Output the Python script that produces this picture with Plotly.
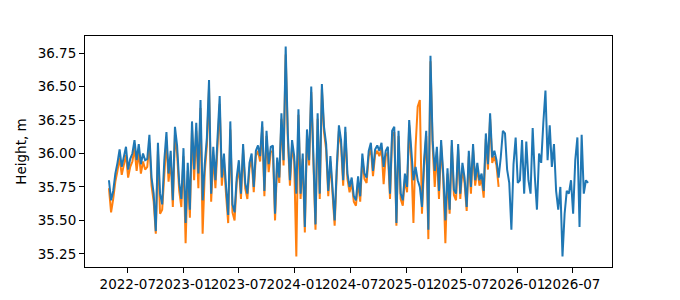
import pandas as pd
import plotly.graph_objects as go

start_date = "2022-04-30"
blue_values = [
    35.80, 35.65, 35.72, 35.85, 35.93, 36.03, 35.90, 35.98, 36.05, 35.88,
    35.96, 36.00, 36.10, 35.95, 36.07, 35.92, 36.00, 35.95, 35.96, 36.14,
    35.82, 35.70, 35.42, 36.08, 35.70, 35.62, 35.95, 36.16, 35.85, 36.02,
    35.65, 36.20, 36.06, 35.78, 35.66, 36.04, 35.48, 35.93, 35.58, 36.24,
    35.88, 36.23, 35.85, 36.40, 35.65, 35.92, 36.12, 36.55, 35.70, 36.05,
    35.80, 36.12, 36.43, 35.82, 36.00, 35.75, 35.54, 36.24, 35.62, 35.56,
    35.82, 35.95, 35.70, 36.07, 35.78, 35.70, 35.93, 36.00, 35.75, 36.02,
    36.06, 35.98, 36.24, 35.72, 36.17, 35.92, 36.05, 36.06, 35.55, 35.97,
    35.82, 36.30, 35.95, 36.80, 36.15, 35.80, 36.10, 35.98, 35.70, 36.33,
    35.70, 36.00, 35.45, 36.18, 35.95, 36.50, 36.05, 35.47, 36.30, 35.70,
    36.52, 36.20, 36.07, 35.72, 35.98, 35.74, 35.50, 35.90, 36.21, 36.10,
    35.80, 36.20, 35.85, 35.75, 35.82, 35.68, 35.65, 35.83, 35.68, 36.00,
    35.85, 35.82, 36.02, 36.08, 35.87, 36.03, 36.06, 36.02, 36.08, 35.90,
    36.02, 36.05, 35.70, 36.17, 36.20, 35.48, 36.17, 35.70, 35.65, 35.85,
    35.75, 36.25, 35.98, 35.80, 35.90, 35.80, 35.75, 35.60, 35.95, 36.17,
    35.43, 36.73, 36.10, 35.87, 36.05, 35.72, 36.10, 35.85, 35.50, 35.89,
    35.58, 36.10, 35.73, 35.70, 36.07, 35.70, 35.93, 35.82, 35.60, 36.02,
    35.75, 36.07, 35.80, 35.93, 35.80, 35.85, 35.72, 36.15, 35.92, 36.30,
    35.97, 36.02, 35.95, 35.82, 35.97, 36.17, 36.15, 35.88, 35.78, 35.43,
    35.92, 36.12, 35.78, 35.80, 36.10, 35.70, 36.09, 35.80, 35.70, 36.19,
    35.83, 35.58, 36.00, 35.93, 36.23, 36.47, 35.95, 36.21, 35.90, 36.07,
    35.72, 35.58, 35.75, 35.23, 35.55, 35.72, 35.70, 35.80, 35.55, 35.95,
    36.12, 35.45, 36.14, 35.70, 35.80, 35.78,
]
orange_values = [
    35.74, 35.56, 35.66, 35.79, 35.87, 35.97, 35.84, 35.92, 35.99, 35.82,
    35.90, 35.94, 36.04, 35.87, 36.01, 35.85, 35.94, 35.88, 35.90, 36.08,
    35.76, 35.64, 35.40, 36.02, 35.55, 35.58, 35.89, 36.10, 35.79, 35.96,
    35.60, 36.14, 36.00, 35.72, 35.60, 35.98, 35.33, 35.87, 35.52, 36.18,
    35.80, 36.17, 35.74, 36.34, 35.40, 35.86, 36.06, 36.49, 35.64, 35.99,
    35.74, 36.06, 36.37, 35.76, 35.94, 35.69, 35.48, 36.18, 35.56, 35.50,
    35.78, 35.90, 35.66, 36.03, 35.74, 35.66, 35.89, 35.96, 35.71, 35.98,
    36.02, 35.94, 36.20, 35.68, 36.13, 35.86, 36.01, 36.02, 35.50, 35.93,
    35.78, 36.26, 35.91, 36.74, 36.11, 35.76, 36.06, 35.94, 35.23, 36.29,
    35.66, 35.96, 35.41, 36.14, 35.91, 36.46, 36.01, 35.43, 36.26, 35.66,
    36.48, 36.16, 36.03, 35.68, 35.94, 35.70, 35.46, 35.86, 36.17, 36.06,
    35.76, 36.16, 35.81, 35.71, 35.78, 35.64, 35.61, 35.79, 35.64, 35.96,
    35.81, 35.78, 35.98, 36.04, 35.83, 35.99, 36.02, 35.98, 36.04, 35.77,
    35.98, 36.01, 35.66, 36.13, 36.16, 35.46, 36.13, 35.66, 35.61, 35.81,
    35.71, 36.21, 35.94, 35.48, 36.05, 36.35, 36.40, 35.55, 35.91, 36.13,
    35.36, 36.69, 36.06, 35.75, 36.01, 35.66, 36.06, 35.81, 35.33, 35.85,
    35.55, 36.06, 35.69, 35.65, 36.03, 35.66, 35.89, 35.78, 35.57, 35.98,
    35.70, 36.03, 35.76, 35.89, 35.76, 35.81, 35.67, 36.11, 35.88, 36.26,
    35.93, 35.98, 35.91, 35.75,
]
y_tick_values = [35.25, 35.50, 35.75, 36.00, 36.25, 36.50, 36.75]
x_tick_labels = ["2022-07", "2023-01", "2023-07", "2024-01", "2024-07",
                 "2025-01", "2025-07", "2026-01", "2026-07"]

dates = pd.date_range(start_date, periods=len(blue_values), freq="7D")
orange_dates = dates[:len(orange_values)]

fig = go.Figure()
fig.add_trace(go.Scatter(x=orange_dates, y=orange_values, mode="lines",
                         line=dict(color="#ff7f0e", width=2), showlegend=False))
fig.add_trace(go.Scatter(x=dates, y=blue_values, mode="lines",
                         line=dict(color="#1f77b4", width=2), showlegend=False))

# matplotlib-like 5% margins
xmin, xmax = dates.min(), dates.max()
xpad = (xmax - xmin) * 0.05
all_y = blue_values + orange_values
ymin, ymax = min(all_y), max(all_y)
ypad = (ymax - ymin) * 0.05

font = dict(family="DejaVu Sans", size=13.5, color="black")
fig.update_layout(
    width=680, height=300,
    margin=dict(l=85, r=68, t=36, b=33),
    paper_bgcolor="white", plot_bgcolor="white",
    font=font,
)
fig.update_xaxes(
    range=[xmin - xpad, xmax + xpad],
    tickvals=[pd.Timestamp(t + "-01") for t in x_tick_labels],
    ticktext=x_tick_labels,
    tickangle=0, automargin=False,
    showline=True, linecolor="black", linewidth=1, mirror=True,
    ticks="outside", ticklen=5, tickwidth=1, tickcolor="black",
    showgrid=False, zeroline=False, tickfont=font,
)
fig.update_yaxes(
    range=[ymin - ypad, ymax + ypad],
    tickvals=y_tick_values,
    ticktext=[f"{v:.2f}" for v in y_tick_values],
    automargin=False,
    showline=True, linecolor="black", linewidth=1, mirror=True,
    ticks="outside", ticklen=5, tickwidth=1, tickcolor="black",
    showgrid=False, zeroline=False, tickfont=font,
    title=dict(text="Height, m", font=font, standoff=7),
)
fig.write_html("out.html")
